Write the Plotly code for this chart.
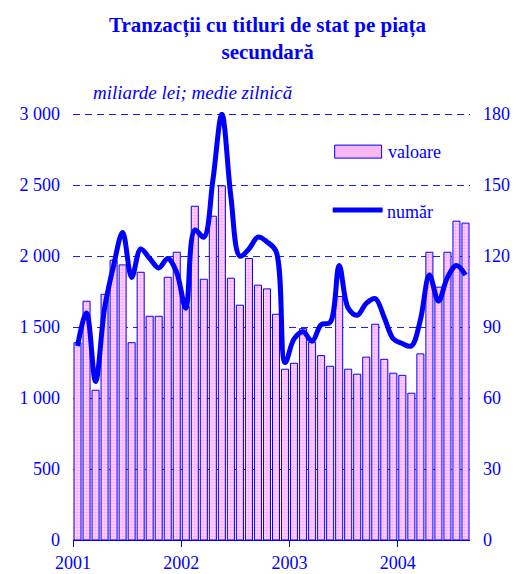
import plotly.graph_objects as go

years = ["2001", "2002", "2003", "2004"]
months = [f"{y}-{m:02d}" for y in years for m in range(1, 13)][:44]

valoare = [1390, 1682, 1055, 1731, 1971, 1938, 1390, 1886, 1576, 1576, 1851, 2027,
           1644, 2351, 1837, 2281, 2495, 1844, 1654, 1983, 1795, 1769, 1590, 1203,
           1245, 1489, 1393, 1299, 1224, 1715, 1203, 1168, 1288, 1520, 1273, 1175,
           1160, 1034, 1311, 2027, 1781, 2027, 2246, 2232]

numar = [82, 96, 67, 98, 116, 130, 111, 123, 119, 115, 119, 113,
         98, 131, 128, 152, 180, 145, 120, 123, 128, 126, 122, 75,
         85, 88, 84, 91, 92, 116, 98, 95, 100, 102, 94, 85,
         83, 82, 93, 112, 101, 111, 116, 112]

left_ticks = [0, 500, 1000, 1500, 2000, 2500, 3000]
left_text = ["0", "500", "1 000", "1 500", "2 000", "2 500", "3 000"]
right_ticks = [0, 30, 60, 90, 120, 150, 180]

BLUE = "#0000ff"
FONT = "'Liberation Serif', 'Times New Roman', Times, serif"

xi = list(range(len(months)))

# small headroom so the 3 000 gridline is drawn
Y1_MAX = 3015
Y2_MAX = 180 * Y1_MAX / 3000
PLOT_H = 426 * Y1_MAX / 3000
TOP = 574 - 34 - PLOT_H

fig = go.Figure()
fig.add_trace(go.Bar(
    x=xi, y=valoare, name="valoare",
    marker=dict(color="#ff80ff",
                line=dict(color=BLUE, width=1),
                pattern=dict(shape=".", fgcolor="#ff70ff", bgcolor="#ffe0ff",
                             size=3, solidity=0.55)),
    hovertext=months,
))
fig.add_trace(go.Scatter(
    x=xi, y=numar, name="număr", yaxis="y2", mode="lines",
    line=dict(color=BLUE, width=5, shape="spline", smoothing=1),
    hovertext=months,
))

fig.update_layout(
    width=517, height=574,
    margin=dict(l=73, r=47, t=TOP, b=34, autoexpand=False),
    paper_bgcolor="white", plot_bgcolor="white",
    showlegend=False,
    bargap=0.22,
    font=dict(family=FONT, color=BLUE, size=18),
    title=dict(text="<b>Tranzacții cu titluri de stat pe piața<br>secundară</b>",
               x=0.5175, xref="container", xanchor="center",
               y=0.944, yref="container", yanchor="top",
               font=dict(family=FONT, size=21, color=BLUE)),
    xaxis=dict(range=[-0.5, len(months) - 0.5],
               tickvals=[-0.5, 11.5, 23.5, 35.5], ticktext=years,
               ticks="outside", ticklen=6, tickcolor=BLUE, tickwidth=1,
               showline=True, linecolor=BLUE, linewidth=1,
               showgrid=False, zeroline=False, automargin=False,
               tickfont=dict(family=FONT, size=18, color=BLUE)),
    yaxis=dict(range=[0, Y1_MAX], tickvals=left_ticks, ticktext=left_text,
               showgrid=True, gridcolor="#1a1aff", griddash="7px,5px", gridwidth=1,
               zeroline=False, showline=False, ticks="", automargin=False,
               ticklabelstandoff=12,
               tickfont=dict(family=FONT, size=18, color=BLUE)),
    yaxis2=dict(range=[0, Y2_MAX], tickvals=right_ticks, overlaying="y", side="right",
                showgrid=False, zeroline=False, showline=False, ticks="",
                automargin=False, ticklabelstandoff=12,
                tickfont=dict(family=FONT, size=18, color=BLUE)),
)

def py(pix):
    """paper y from a pixel row (plot area bottom at 540)."""
    return (540 - pix) / PLOT_H

def px(pix):
    return (pix - 73) / 397.5

# legend area (white box over the gridlines) and legend entries
fig.add_shape(type="rect", xref="paper", yref="paper", layer="between",
              x0=px(310), x1=px(458), y0=py(240), y1=py(125),
              fillcolor="white", line=dict(width=0))
fig.add_shape(type="rect", xref="paper", yref="paper",
              x0=px(335), x1=px(382), y0=py(158), y1=py(145),
              fillcolor="#f7b8f4", line=dict(color=BLUE, width=1))
fig.add_shape(type="line", xref="paper", yref="paper",
              x0=px(333), x1=px(383), y0=py(210), y1=py(210),
              line=dict(color=BLUE, width=5))
fig.add_annotation(text="valoare", xref="paper", yref="paper", x=px(386), y=py(152),
                   xanchor="left", yanchor="middle", showarrow=False,
                   font=dict(family=FONT, size=18, color=BLUE))
fig.add_annotation(text="număr", xref="paper", yref="paper", x=px(385), y=py(212),
                   xanchor="left", yanchor="middle", showarrow=False,
                   font=dict(family=FONT, size=18, color=BLUE))
fig.add_annotation(text="<i>miliarde lei; medie zilnică</i>", xref="paper", yref="paper",
                   x=px(91), y=py(92),
                   xanchor="left", yanchor="middle", showarrow=False,
                   font=dict(family=FONT, size=19, color=BLUE))

fig.write_html("out.html",
               config={"displayModeBar": False},
               post_script="document.body.style.margin='0';document.body.style.padding='0';")
